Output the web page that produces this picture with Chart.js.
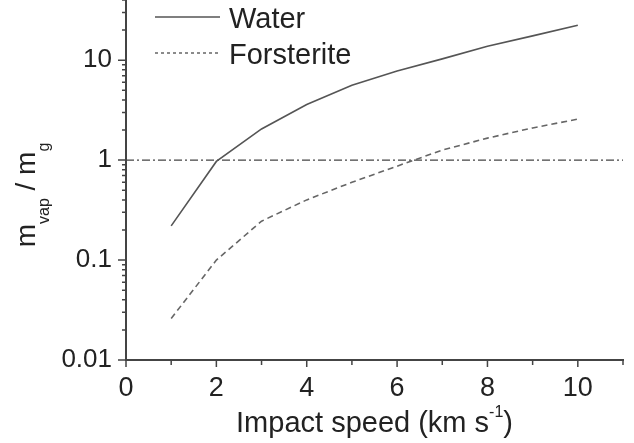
<!DOCTYPE html>
<html>
<head>
<meta charset="utf-8">
<script src="https://cdn.jsdelivr.net/npm/chart.js@4"></script>
<style>
  html, body { margin: 0; padding: 0; background: #fff; }
  #wrap { width: 634px; height: 443px; }
</style>
</head>
<body>
<div id="wrap"><canvas id="vap-chart" width="634" height="443"></canvas></div>
<script>
var speeds = [1, 2, 3, 4, 5, 6, 7, 8, 9, 10]
var water = [0.22, 0.97, 2.05, 3.6, 5.6, 7.8, 10.3, 13.8, 17.5, 22.4]
var forsterite = [0.026, 0.1, 0.245, 0.40, 0.60, 0.87, 1.26, 1.66, 2.1, 2.57]
var seriesNames = ["Water", "Forsterite"]
var refX = [0, 11]
var refY = [1, 1]
var xTicks = [0, 2, 4, 6, 8, 10]
var yTicks = [0.01, 0.1, 1, 10]
var yTickLabels = ["0.01", "0.1", "1", "10"]

const FONT = '"Liberation Sans", Arial, sans-serif';
const INK = '#222';
const AXIS = '#444';

function toPoints(xs, ys) {
  return xs.map((x, i) => ({ x: x, y: ys[i] }));
}

// minor ticks, axis titles with sub/superscripts, legend inside the plot
const extras = {
  id: 'extras',
  afterDraw(chart) {
    const ctx = chart.ctx;
    const xs = chart.scales.x, ys = chart.scales.y;
    const area = chart.chartArea;
    ctx.save();
    ctx.strokeStyle = AXIS;
    ctx.lineWidth = 1.5;
    ctx.beginPath();
    for (let v = 0; v <= 11; v++) {
      const px = xs.getPixelForValue(v);
      ctx.moveTo(px, area.bottom);
      ctx.lineTo(px, area.bottom + (v % 2 === 0 ? 7 : 5));
    }
    for (let d = 0.01; d < 100; d *= 10) {
      for (let m = 1; m <= 9; m++) {
        const val = d * m;
        if (val > ys.max) break;
        const py = ys.getPixelForValue(val);
        ctx.moveTo(area.left, py);
        ctx.lineTo(area.left - (m === 1 ? 8 : 4), py);
      }
    }
    ctx.stroke();

    // legend
    chart.data.datasets.slice(0, 2).forEach((ds, i) => {
      const y = 17 + i * 36;
      ctx.strokeStyle = ds.borderColor;
      ctx.lineWidth = 1.5;
      ctx.setLineDash(i === 0 ? [] : [3, 3]);
      ctx.beginPath();
      ctx.moveTo(155, y);
      ctx.lineTo(220, y);
      ctx.stroke();
      ctx.setLineDash([]);
      ctx.fillStyle = INK;
      ctx.font = '29px ' + FONT;
      ctx.textBaseline = 'alphabetic';
      ctx.textAlign = 'left';
      ctx.fillText(ds.label, 229, y + 11);
    });

    // x title
    ctx.fillStyle = INK;
    const big = '29px ' + FONT, small = '16px ' + FONT;
    const parts = [["Impact speed (km s", big, 0], ["-1", small, -15], [")", big, 0]];
    let w = 0;
    parts.forEach(p => { ctx.font = p[1]; w += ctx.measureText(p[0]).width; });
    let x = (area.left + area.right) / 2 - w / 2;
    parts.forEach(p => {
      ctx.font = p[1];
      ctx.fillText(p[0], x, 432 + p[2]);
      x += ctx.measureText(p[0]).width;
    });

    // y title
    const yparts = [["m", '28px ' + FONT, 0], ["vap", small, 14], [" / m", '28px ' + FONT, 0], ["g", small, 14]];
    w = 0;
    yparts.forEach(p => { ctx.font = p[1]; w += ctx.measureText(p[0]).width; });
    ctx.translate(35, 195 + w / 2);
    ctx.rotate(-Math.PI / 2);
    x = 0;
    yparts.forEach(p => {
      ctx.font = p[1];
      ctx.fillText(p[0], x, p[2]);
      x += ctx.measureText(p[0]).width;
    });
    ctx.restore();
  }
};

new Chart("vap-chart", {
  type: "scatter",
  data: {
    datasets: [{
      label: seriesNames[0],
      data: toPoints(speeds, water),
      showLine: true,
      borderColor: '#555',
      borderWidth: 1.6,
      pointRadius: 0
    }, {
      label: seriesNames[1],
      data: toPoints(speeds, forsterite),
      showLine: true,
      borderColor: '#666',
      borderWidth: 1.6,
      borderDash: [6, 4],
      pointRadius: 0
    }, {
      label: 'ref',
      data: toPoints(refX, refY),
      showLine: true,
      borderColor: '#444',
      borderWidth: 1.4,
      borderDash: [8, 3, 2, 3],
      pointRadius: 0
    }]
  },
  options: {
    responsive: false,
    animation: false,
    layout: { padding: { top: 0, right: 11, left: 0, bottom: 0 } },
    plugins: {
      legend: { display: false },
      tooltip: { enabled: false }
    },
    scales: {
      x: {
        type: 'linear',
        min: 0,
        max: 11,
        afterBuildTicks: (scale) => { scale.ticks = xTicks.map(v => ({ value: v })); },
        afterFit: (scale) => { scale.height = 83; scale.paddingLeft = 0; scale.paddingRight = 0; },
        grid: { display: true, drawOnChartArea: false, drawTicks: false },
        border: { display: true, color: AXIS, width: 2 },
        ticks: {
          padding: 12,
          color: INK,
          font: { family: FONT, size: 27 },
          maxRotation: 0,
          callback: (v) => String(v)
        }
      },
      y: {
        type: 'logarithmic',
        min: 0.01,
        max: 40,
        afterBuildTicks: (scale) => { scale.ticks = yTicks.map(v => ({ value: v })); },
        afterFit: (scale) => { scale.width = 126; scale.paddingTop = 0; scale.paddingBottom = 0; },
        grid: { display: true, drawOnChartArea: false, drawTicks: false },
        border: { display: true, color: AXIS, width: 2 },
        ticks: {
          padding: 14,
          color: INK,
          font: { family: FONT, size: 26 },
          callback: (v) => yTickLabels[yTicks.indexOf(v)]
        }
      }
    }
  },
  plugins: [extras]
});
</script>
</body>
</html>
